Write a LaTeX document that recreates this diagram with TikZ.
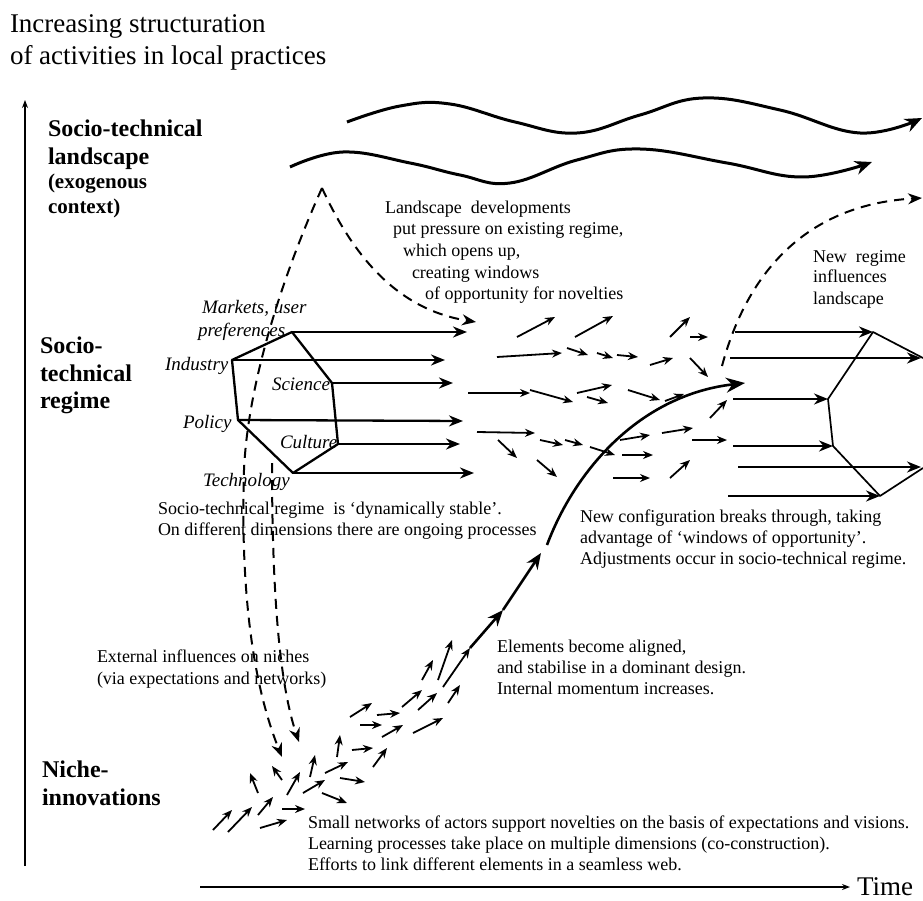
\documentclass[tikz,border=0pt]{standalone}
\usepackage{fontspec}
\setmainfont{Liberation Serif}
\usetikzlibrary{arrows.meta}
\newcommand\fbody{\fontsize{18}{21}\selectfont}
\newcommand\fital{\fontsize{19}{22}\selectfont\itshape}
\newcommand\fbig{\fontsize{24}{28}\selectfont\bfseries}
\newcommand\fmid{\fontsize{21}{24}\selectfont\bfseries}
\newcommand\fttl{\fontsize{27}{31}\selectfont}
\begin{document}
\begin{tikzpicture}[x=1pt,y=-1pt,
  every node/.style={inner sep=0pt,outer sep=0pt,anchor=base west},
  body/.style={font=\fbody},
  ital/.style={font=\fital},
  bigl/.style={font=\fbig},
  midl/.style={font=\fmid},
  ttl/.style={font=\fttl},
  axis/.style={line width=1.3pt,-{Stealth[length=8pt,width=6pt]}},
  wave/.style={line width=3pt,-{Stealth[length=17pt,width=14pt]}},
  dsh/.style={line width=2pt,dash pattern=on 10pt off 7pt,-{Stealth[length=14pt,width=11pt]}},
  hexl/.style={line width=2.3pt},
  hexr/.style={line width=1.7pt},
  ha/.style={line width=2.3pt,-{Stealth[length=14pt,width=11pt]}},
  sa/.style={line width=1.8pt,-{Stealth[length=10pt,width=8pt]}},
  ta/.style={line width=2.6pt,-{Stealth[length=16pt,width=13pt]}}
]
\useasboundingbox (0,0) rectangle (923,901);

% axes
\coordinate (vb) at (25,866); \coordinate (vt) at (25,100);
\draw[axis] (vb) -- (vt);
\coordinate (tl) at (200,887); \coordinate (tr) at (850,887);
\draw[axis] (tl) -- (tr);
\node[ttl] (time) at (857,895) {Time};

% titles and level labels
\node[ttl] (t1) at (10,33) {Increasing structuration};
\node[ttl] (t2) at (10,65) {of activities in local practices};
\node[bigl] (l1) at (48,137) {Socio-technical};
\node[bigl] (l2) at (48,165) {landscape};
\node[midl] (l3) at (48,189) {(exogenous};
\node[midl] (l4) at (48,214) {context)};
\node[bigl] (r1) at (40,353) {Socio-};
\node[bigl] (r2) at (40,381) {technical};
\node[bigl] (r3) at (40,408) {regime};
\node[bigl] (n1t) at (42,777) {Niche-};
\node[bigl] (n2t) at (42,805) {innovations};

% landscape waves
\draw[wave] plot[smooth,tension=0.7] coordinates {(347,122) (400,106) (450,104) (515,122) (577,133) (640,115) (703,98) (780,110) (860,133) (922,118)};
\draw[wave] plot[smooth,tension=0.7] coordinates {(290,167) (343,152) (410,163) (460,175) (510,183) (577,160) (640,149) (727,163) (803,177) (872,162)};

% landscape text
\node[body] (ld1) at (385,214) {Landscape\ \ developments};
\node[body] (ld2) at (393,235) {put pressure on existing regime,};
\node[body] (ld3) at (403,257) {which opens up,};
\node[body] (ld4) at (412,278) {creating windows};
\node[body] (ld5) at (425,299) {of opportunity for novelties};

\node[body] (nr1) at (813,262) {New\ \ regime};
\node[body] (nr2) at (813,283) {influences};
\node[body] (nr3) at (813,304) {landscape};

% dashed influences
\coordinate (pk) at (322,188);
\draw[dsh] (pk) .. controls (355,260) and (400,310) .. (476,322);
\draw[dsh] (pk) .. controls (285,270) and (248,380) .. (244,470) .. controls (240,600) and (255,690) .. (282,757);
\draw[dsh] (272,463) .. controls (272,580) and (278,680) .. (299,742);
\draw[dsh] (722,366) .. controls (745,280) and (800,205) .. (922,198);

% old regime hexagon
\coordinate (hm) at (292,332); \coordinate (hi) at (232,360); \coordinate (hs) at (332,383);
\coordinate (hp) at (238,420); \coordinate (hc) at (338,444); \coordinate (ht) at (293,473);
\draw[hexl,line join=round] (hm) -- (hi) -- (hp) -- (ht) -- (hc) -- (hs) -- cycle;
\draw[ha] (hm) -- (467,332);
\draw[ha] (hi) -- (445,360);
\draw[ha] (hs) -- (453,383);
\draw[ha] (hp) -- (463,421);
\draw[ha] (hc) -- (460,444);
\draw[ha] (ht) -- (474,473);

\node[ital] (mk1) at (202,313) {Markets, user};
\node[ital] (mk2) at (198,336) {preferences};
\node[ital] (ind) at (165,370) {Industry};
\node[ital] (sci) at (272,390) {Science};
\node[ital] (pol) at (183,428) {Policy};
\node[ital] (cul) at (280,448) {Culture};
\node[ital] (tec) at (203,486) {Technology};

\node[body] (rg1) at (158,514) {Socio-technical regime\ \ is ‘dynamically stable’.};
\node[body] (rg2) at (158,535) {On different dimensions there are ongoing processes};

% regime cluster arrows
\foreach \a/\b/\c/\d in {517/337/555/317, 575/337/613/316, 497/357/562/353, 567/348/588/355,
  597/353/613/358, 617/355/638/357, 650/365/673/358, 670/337/690/317, 690/337/708/337,
  690/358/708/377, 468/393/530/393, 530/390/573/402, 577/393/612/385, 587/397/608/403,
  628/390/660/400, 665/401/684/394, 710/418/727/400, 477/432/535/433, 498/440/517/458,
  540/440/563/445, 565/440/583/445, 590/447/615/455, 537/460/557/477, 620/440/650/435,
  622/455/653/455, 662/433/693/428, 692/440/727/440, 613/478/650/478, 670/478/690/460}
  \draw[sa] (\a,\b) -- (\c,\d);

% niche cluster arrows
\foreach \a/\b/\c/\d in {213/830/232/810, 228/832/252/807, 258/815/273/797, 260/828/287/820,
  282/809/305/809, 287/795/300/772, 258/793/250/773, 282/780/272/766, 303/793/325/780,
  322/793/347/803, 310/777/315/755, 325/773/348/762, 340/778/365/782, 337/757/340/735,
  352/750/373/748, 373/767/387/748, 350/717/372/703, 360/725/382/725, 377/715/400/713,
  382/737/403/725, 402/707/422/690, 413/733/443/718, 418/710/437/693, 422/680/433/660,
  438/680/452/640, 448/703/460/685, 443/687/470/648}
  \draw[sa] (\a,\b) -- (\c,\d);

% rising trajectory
\coordinate (m1) at (470,648); \coordinate (m2) at (503,610); \coordinate (m3) at (541,553);
\coordinate (m4) at (547,545); \coordinate (m5) at (745,383);
\draw[ta] (m1) -- (m2);
\draw[ta] (m2) -- (m3);
\draw[line width=2.6pt,-{Stealth[length=19pt,width=15pt]}] (m4) .. controls (575,470) and (640,395) .. (m5);

% new regime
\coordinate (n1) at (873,332); \coordinate (n2) at (923,358); \coordinate (n3) at (828,399);
\coordinate (n4) at (833,446); \coordinate (n5) at (880,496); \coordinate (n6) at (923,468);
\draw[hexr,line join=round] (n2) -- (n1) -- (n3) -- (n4) -- (n5) -- (n6);
\draw[ha] (735,332) -- (n1);
\draw[ha] (730,358) -- (921,358);
\draw[ha] (733,399) -- (n3);
\draw[ha] (733,446) -- (n4);
\draw[ha] (738,467) -- (921,467);
\draw[ha] (728,496) -- (n5);

\node[body] (nc1) at (580,522) {New configuration breaks through, taking};
\node[body] (nc2) at (580,543) {advantage of ‘windows of opportunity’.};
\node[body] (nc3) at (580,564) {Adjustments occur in socio-technical regime.};

\node[body] (ex1) at (97,662) {External influences on niches};
\node[body] (ex2) at (97,684) {(via expectations and networks)};

\node[body] (el1) at (497,652) {Elements become aligned,};
\node[body] (el2) at (497,673) {and stabilise in a dominant design.};
\node[body] (el3) at (497,694) {Internal momentum increases.};

\node[body] (sm1) at (308,828) {Small networks of actors support novelties on the basis of expectations and visions.};
\node[body] (sm2) at (308,849) {Learning processes take place on multiple dimensions (co-construction).};
\node[body] (sm3) at (308,870) {Efforts to link different elements in a seamless web.};
\end{tikzpicture}
\end{document}
